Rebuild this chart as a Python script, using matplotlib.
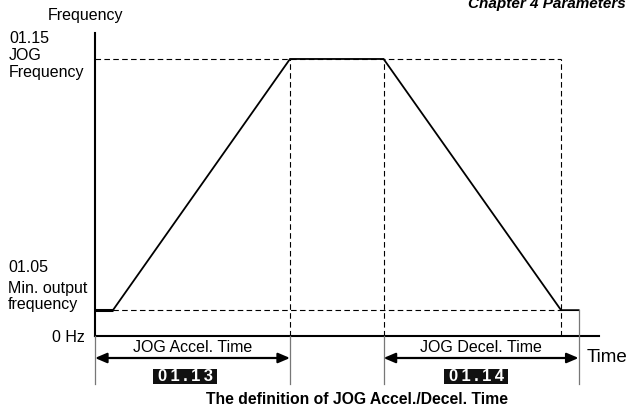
import matplotlib
matplotlib.use('Agg')
import matplotlib.pyplot as plt
from matplotlib.patches import Rectangle

plt.rcParams['font.family'] = ['Liberation Sans', 'DejaVu Sans']

# JOG profile (time in arbitrary units, frequency in Hz)
times = [0, 0.92, 10.0, 14.8, 23.9, 24.8]
freqs = [5.6, 5.6, 60.0, 60.0, 5.6, 5.6]
jog_freq = 60.0
min_freq = 5.6
t_acc_end = times[2]
t_dec_start = times[3]
t_dec_end = times[4]
t_stop = times[5]
accel_label = 'JOG Accel. Time'
decel_label = 'JOG Decel. Time'
accel_param = '01.13'
decel_param = '01.14'

# pixel scale of the drawing
px_t = 19.5     # px per time unit
px_f = 4.617    # px per Hz
x0, y0 = 95, 336  # origin in pixels (from top-left)

def X(px):
    return (px - x0) / px_t

def Y(py):
    return (y0 - py) / px_f

fs = 11.5

fig = plt.figure(figsize=(6.3, 4.05), dpi=100)
ax = fig.add_axes([0, 0, 1, 1])
ax.set_xlim(X(0), X(630))
ax.set_ylim(Y(405), Y(0))
ax.axis('off')

# axes
ax.plot([0, 0], [0, Y(33)], color='black', lw=1.5)
ax.plot([0, X(599)], [0, 0], color='black', lw=1.5)

# dashed guides
ax.plot([0, t_dec_end], [jog_freq, jog_freq], 'k--', lw=0.8, dashes=(5, 3))
ax.plot([0, t_dec_end], [min_freq, min_freq], 'k--', lw=0.8, dashes=(5, 3))
for t in (t_acc_end, t_dec_start, t_dec_end):
    ax.plot([t, t], [0, jog_freq], 'k--', lw=0.8, dashes=(5, 3))

# profile
ax.plot(times, freqs, color='black', lw=1.3, solid_joinstyle='miter')
ax.plot(times[:2], freqs[:2], color='black', lw=2.2, solid_capstyle='butt')

# gray boundary lines
gray = '#777777'
for t in (0, t_acc_end, t_dec_start):
    ax.plot([t, t], [0, Y(384)], color=gray, lw=0.9)
ax.plot([t_stop, t_stop], [min_freq, Y(384)], color=gray, lw=0.9)

# arrows
ya = Y(358)
arw = dict(arrowstyle='<|-|>,head_length=0.7,head_width=0.3', color='black',
           lw=1.6, shrinkA=0, shrinkB=0)
ax.annotate('', xy=(t_acc_end, ya), xytext=(0, ya), arrowprops=arw)
ax.annotate('', xy=(t_stop, ya), xytext=(t_dec_start, ya), arrowprops=arw)

ax.text(t_acc_end / 2, Y(347), accel_label, ha='center', va='center', fontsize=fs)
ax.text((t_dec_start + t_stop) / 2, Y(347), decel_label, ha='center', va='center', fontsize=fs)

# parameter boxes
for cx, label in ((185, accel_param), (476, decel_param)):
    ax.add_patch(Rectangle((X(cx - 32), Y(383.5)), 64 / px_t, 15 / px_f,
                           facecolor='#111111', edgecolor='none'))
    ax.text(X(cx), Y(381), '\u2009'.join(label), ha='center', va='baseline',
            fontsize=12, fontweight='bold', color='white')

# labels
ax.text(X(48), Y(15), 'Frequency', ha='left', va='center', fontsize=fs)
ax.text(X(9), Y(38), '01.15', ha='left', va='center', fontsize=fs)
ax.text(X(9), Y(55), 'JOG', ha='left', va='center', fontsize=fs)
ax.text(X(9), Y(72), 'Frequency', ha='left', va='center', fontsize=fs)
ax.text(X(8), Y(268), '01.05', ha='left', va='center', fontsize=fs)
ax.text(X(8), Y(288), 'Min. output', ha='left', va='center', fontsize=fs)
ax.text(X(8), Y(305), 'frequency', ha='left', va='center', fontsize=fs)
ax.text(X(85), Y(338), '0 Hz', ha='right', va='center', fontsize=fs)
ax.text(X(587), Y(357), 'Time', ha='left', va='center', fontsize=13.5)

ax.text(X(357), Y(399), 'The definition of JOG Accel./Decel. Time', ha='center',
        va='center', fontsize=11.3, fontweight='bold')
ax.text(X(626), Y(4), 'Chapter 4 Parameters', ha='right', va='center',
        fontsize=11, fontweight='bold', fontstyle='italic')

fig.savefig('out.png', dpi=100)
